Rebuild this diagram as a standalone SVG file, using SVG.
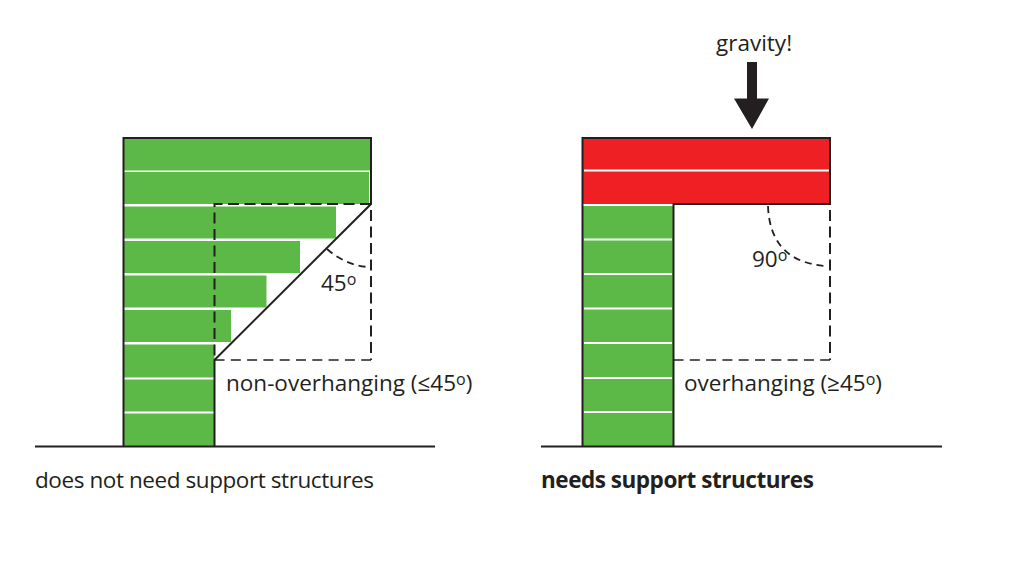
<svg xmlns="http://www.w3.org/2000/svg" width="1024" height="585" viewBox="0 0 1024 585">
<style>
.g{fill:#5cb947}
.r{fill:#ee2024}
.w{stroke:#fff;stroke-width:2;fill:none}
.k{stroke:#231f20;stroke-width:2;fill:none}
.d{stroke:#231f20;stroke-width:2;fill:none;stroke-dasharray:11 5.500}
.t{stroke:#231f20;stroke-width:1.300;fill:none;stroke-dasharray:10 6.300}
.a{stroke:#231f20;stroke-width:1.800;fill:none;stroke-dasharray:7 5}
text{font-family:"Open Sans","Noto Sans",sans-serif;font-size:22.500px;fill:#231f20}
.s{font-size:16px}
.b{letter-spacing:-0.420px}
.h{letter-spacing:-0.470px;font-weight:700}
</style>
<rect width="1024" height="585" fill="#fff"/>
<g id="left-part">
<path class="g" d="M124 138H371V204L370 170.500H124Z"/>
<rect class="g" x="124" y="172" width="245" height="32"/>
<rect class="g" x="124" y="206.500" width="212" height="32"/>
<rect class="g" x="124" y="241" width="176" height="32"/>
<rect class="g" x="124" y="275.500" width="142.500" height="32"/>
<rect class="g" x="124" y="310" width="107" height="32"/>
<rect class="g" x="124" y="344.500" width="90.500" height="102"/>
<path class="w" d="M124 378.500H214M124 412.500H214"/>
<path class="k" d="M123.500 446V138H371V204L214.500 360V446" stroke-width="2.300"/>
</g>
<g id="left-guides">
<path class="d" d="M371 204H214.500V360"/>
<path class="d" d="M371 210V360"/>
<path class="t" d="M214.500 360H371"/>
<path class="a" d="M327 249Q345 265 368 267"/>
</g>
<g id="right-part">
<rect class="r" x="583" y="138" width="247" height="66"/>
<path class="w" d="M584 170.500H829"/>
<rect class="g" x="583" y="206" width="90.500" height="240"/>
<path d="M583 205H673" stroke="#fff" stroke-width="2"/>
<path class="w" d="M584 239.500H672M584 274H672M584 308.500H672M584 343H672M584 378H672M584 412H672"/>
<path class="k" d="M582.500 446V138H830V204H673.500V446"/>
</g>
<g id="right-guides">
<path class="d" d="M830 210V360"/>
<path class="t" d="M673.500 360H830"/>
<path class="a" d="M768 206Q770 262 826 266"/>
</g>
<g id="gravity-arrow">
<polygon fill="#231f20" points="747,62 757,62 757,98.500 769,98.500 752,129 734,98.500 747,98.500"/>
</g>
<g id="ground">
<path class="k" d="M35 446.500H435"/>
<path class="k" d="M541 446.500H942"/>
</g>
<g id="labels">
<text x="716" y="51">gravity!</text>
<text x="321" y="291">45<tspan class="s" dy="-6">o</tspan></text>
<text x="752" y="267">90<tspan class="s" dy="-6">o</tspan></text>
<text x="226" y="391">non-overhanging (≤45<tspan class="s" dy="-6">o</tspan><tspan dy="6">)</tspan></text>
<text x="684" y="391">overhanging (≥45<tspan class="s" dy="-6">o</tspan><tspan dy="6">)</tspan></text>
<text class="b" x="35" y="488">does not need support structures</text>
<text class="h" x="541" y="488">needs support structures</text>
</g>
</svg>
